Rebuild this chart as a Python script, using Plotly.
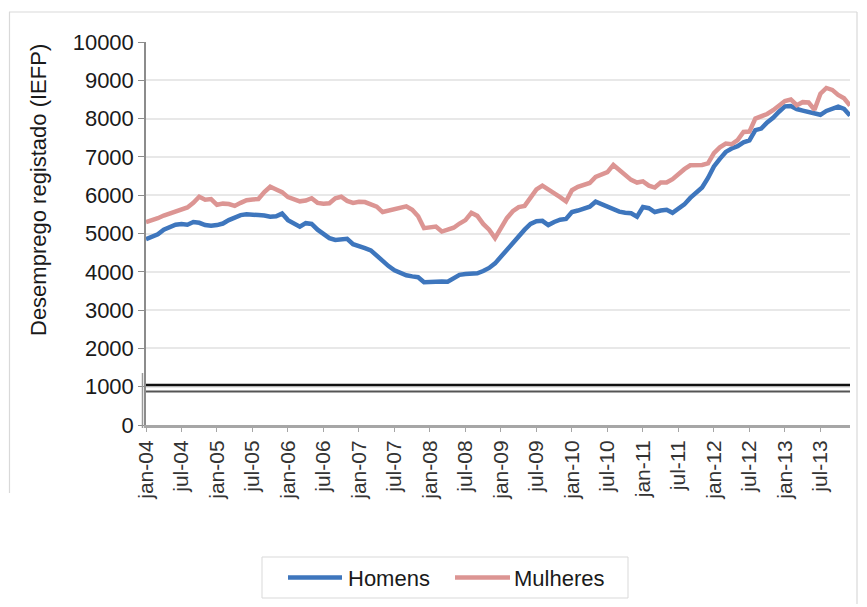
import plotly.graph_objects as go

# ---- data (monthly, Jan 2004 - Dec 2013) ----
months_pt = ["jan", "fev", "mar", "abr", "mai", "jun", "jul", "ago", "set", "out", "nov", "dez"]
years = list(range(2004, 2014))
dates = [f"{m}-{str(y)[2:]}" for y in years for m in months_pt]

homens = [
    4850, 4900, 4980, 5100, 5160, 5230, 5250, 5230, 5300, 5280, 5220, 5200,
    5220, 5260, 5350, 5420, 5480, 5500, 5500, 5480, 5470, 5440, 5450, 5520,
    5350, 5280, 5180, 5270, 5250, 5100, 5000, 4880, 4830, 4850, 4860, 4720,
    4680, 4620, 4560, 4420, 4300, 4150, 4040, 3960, 3910, 3880, 3860, 3730,
    3740, 3740, 3750, 3740, 3840, 3920, 3940, 3950, 3960, 4020, 4100, 4220,
    4400, 4600, 4780, 4950, 5100, 5250, 5320, 5330, 5220, 5300, 5360, 5380,
    5560, 5600, 5640, 5700, 5830, 5760, 5680, 5620, 5570, 5540, 5530, 5440,
    5690, 5660, 5560, 5600, 5620, 5540, 5650, 5760, 5930, 6060, 6200, 6450,
    6750, 6950, 7130, 7220, 7280, 7380, 7430, 7700, 7740, 7900, 8020, 8180,
    8320, 8330, 8250, 8210, 8180, 8130, 8100, 8200, 8270, 8310, 8250, 8080,
]

mulheres = [
    5300, 5340, 5400, 5470, 5520, 5600, 5640, 5680, 5800, 5960, 5880, 5900,
    5750, 5780, 5770, 5720, 5800, 5870, 5890, 5900, 6080, 6220, 6150, 6080,
    5950, 5880, 5840, 5860, 5920, 5800, 5780, 5790, 5920, 5960, 5850, 5800,
    5830, 5820, 5760, 5700, 5560, 5600, 5650, 5700, 5710, 5620, 5450, 5140,
    5150, 5180, 5050, 5100, 5150, 5260, 5350, 5540, 5460, 5250, 5100, 4880,
    5150, 5400, 5580, 5690, 5720, 5950, 6150, 6250, 6160, 6050, 5950, 5840,
    6130, 6220, 6260, 6320, 6480, 6530, 6600, 6790, 6650, 6530, 6400, 6330,
    6360, 6250, 6200, 6330, 6330, 6420, 6560, 6680, 6780, 6780, 6790, 6830,
    7100, 7250, 7350, 7330, 7440, 7650, 7660, 8000, 8060, 8120, 8220, 8350,
    8460, 8500, 8350, 8430, 8420, 8230, 8650, 8800, 8750, 8620, 8530, 8340,
]

series_names = ["Homens", "Mulheres"]
series_colors = ["#3E76BD", "#DC9593"]

tick_idx = list(range(0, 120, 6))
tick_labels = [dates[i] for i in tick_idx]
y_ticks = list(range(0, 10001, 1000))

FONT = "Liberation Sans, Arial, sans-serif"
OFF = 8  # page body margin
W, H = 867 - OFF, 607 - OFF
L, T = 146 - OFF, 42 - OFF
R = W - (850 - OFF)
B = H - (425 - OFF)
PW, PH = W - L - R, H - T - B


def px(x):
    return (x - OFF - L) / PW


def py(y):
    return (H - B - (y - OFF)) / PH


x = list(range(len(dates)))

fig = go.Figure()
for name, vals, col in zip(series_names, [homens, mulheres], series_colors):
    fig.add_trace(go.Scatter(x=x, y=vals, mode="lines", name=name,
                             line=dict(color=col, width=4.5), showlegend=False))

shapes = []
# axis break lines
shapes.append(dict(type="line", xref="paper", yref="paper", x0=0, x1=1,
                   y0=py(385), y1=py(385), line=dict(color="#111111", width=2.5)))
shapes.append(dict(type="line", xref="paper", yref="paper", x0=0, x1=1,
                   y0=py(391.5), y1=py(391.5), line=dict(color="#555555", width=2)))
shapes.append(dict(type="line", xref="paper", yref="paper", x0=px(142.5), x1=px(142.5),
                   y0=py(373), y1=py(428), line=dict(color="#999999", width=1.5)))
# outer frame
frame = "#D9D9D9"
shapes.append(dict(type="line", xref="paper", yref="paper", x0=px(9), x1=px(857),
                   y0=py(12), y1=py(12), line=dict(color=frame, width=1.2)))
shapes.append(dict(type="line", xref="paper", yref="paper", x0=px(9.5), x1=px(9.5),
                   y0=py(12), y1=py(493), line=dict(color=frame, width=1.2)))
shapes.append(dict(type="line", xref="paper", yref="paper", x0=px(857), x1=px(857),
                   y0=py(12), y1=py(604), line=dict(color=frame, width=1.2)))

# manual legend
shapes.append(dict(type="rect", xref="paper", yref="paper", x0=px(262), x1=px(628),
                   y0=py(557), y1=py(598), line=dict(color="#D9D9D9", width=1),
                   fillcolor="white"))
annotations = [dict(text="Desemprego registado (IEFP)", xref="paper", yref="paper",
                    x=px(38), y=py(190), textangle=-90, showarrow=False,
                    font=dict(family=FONT, size=22, color="#1a1a1a"),
                    xanchor="center", yanchor="middle")]
leg_x = [(288, 342, 346), (455, 510, 512)]
for (x0, x1, tx), name, col in zip(leg_x, series_names, series_colors):
    shapes.append(dict(type="line", xref="paper", yref="paper", x0=px(x0), x1=px(x1),
                       y0=py(577.5), y1=py(577.5), line=dict(color=col, width=4.5)))
    annotations.append(dict(text=name, xref="paper", yref="paper", x=px(tx), y=py(578),
                            xanchor="left", yanchor="middle", showarrow=False,
                            font=dict(family=FONT, size=22, color="#1a1a1a")))

fig.update_layout(
    width=W, height=H,
    margin=dict(l=L, r=R, t=T, b=B, autoexpand=False),
    paper_bgcolor="white", plot_bgcolor="white",
    font=dict(family=FONT, size=20, color="#1a1a1a"),
    showlegend=False,
    xaxis=dict(range=[0, 119], tickmode="array", tickvals=tick_idx, ticktext=tick_labels,
               tickangle=-90, tickfont=dict(family=FONT, size=21, color="#333333"),
               showgrid=False, zeroline=False, showline=True, linecolor="#A6A6A6",
               linewidth=3, ticks="outside", ticklen=4, tickcolor="#A6A6A6",
               automargin=False),
    yaxis=dict(range=[0, 10000], tickmode="array", tickvals=y_ticks,
               ticktext=[str(v) for v in y_ticks],
               tickfont=dict(family=FONT, size=22, color="#1a1a1a"),
               showgrid=True, gridcolor="#E8E8E8", gridwidth=1.5, zeroline=False,
               showline=True, linecolor="#8C8C8C", linewidth=1.5,
               ticks="outside", ticklen=6, tickcolor="#8C8C8C", automargin=False),
    shapes=shapes,
    annotations=annotations,
)

fig.write_html("out.html")
